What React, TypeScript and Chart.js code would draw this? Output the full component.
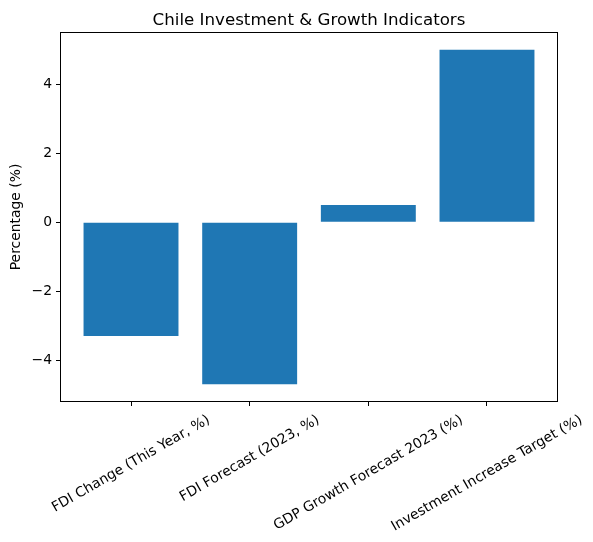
import { useEffect, useRef } from 'react';
import { Chart, registerables, Plugin } from 'chart.js';

Chart.register(...registerables);

const categories = [
	'FDI Change (This Year, %)',
	'FDI Forecast (2023, %)',
	'GDP Growth Forecast 2023 (%)',
	'Investment Increase Target (%)',
];
const values = [-3.3, -4.7, 0.5, 5.0];
const yTicks = [-4, -2, 0, 2, 4];
const chartTitle = 'Chile Investment & Growth Indicators';
const yTitle = 'Percentage (%)';

const FONT = "'DejaVu Sans', sans-serif";
const BLUE = '#1f77b4';

// matplotlib-like text and frame: title, box, rotated x labels centred on ticks
const textPlugin: Plugin<'bar'> = {
	id: 'mplText',
	afterDraw(chart) {
		const { ctx, chartArea, scales } = chart;
		const x = scales.x;
		ctx.save();
		ctx.strokeStyle = '#000';
		ctx.lineWidth = 1;
		ctx.strokeRect(
			Math.round(chartArea.left) - 0.5,
			Math.round(chartArea.top) - 0.5,
			Math.round(chartArea.right - chartArea.left) + 1,
			Math.round(chartArea.bottom - chartArea.top) + 1,
		);

		ctx.fillStyle = '#000';
		ctx.font = `16.67px ${FONT}`;
		ctx.textAlign = 'center';
		ctx.textBaseline = 'alphabetic';
		ctx.fillText(chartTitle, (chartArea.left + chartArea.right) / 2, chartArea.top - 8.5);

		ctx.font = `13.9px ${FONT}`;
		const angle = Math.PI / 6;
		const lineH = 16.2;
		categories.forEach((label, i) => {
			const w = ctx.measureText(label).width;
			const boxH = w * Math.sin(angle) + lineH * Math.cos(angle);
			const cx = x.getPixelForValue(i);
			const cy = chartArea.bottom + 11 + boxH / 2;
			ctx.save();
			ctx.translate(cx, cy);
			ctx.rotate(-angle);
			ctx.textAlign = 'center';
			ctx.textBaseline = 'middle';
			ctx.fillText(label, 0, 0);
			ctx.restore();
		});
		ctx.restore();
	},
};

export default function App() {
	const chartRef = useRef<HTMLCanvasElement>(null);

	useEffect(() => {
		document.body.style.margin = '0';
		if (!chartRef.current) return;
		const chart = new Chart(chartRef.current, {
			type: 'bar',
			data: {
				datasets: [
					{
						data: values.map((v, i) => ({ x: i, y: v })),
						backgroundColor: BLUE,
						borderWidth: 0,
						barPercentage: 1,
						categoryPercentage: 0.8,
					},
				],
			},
			options: {
				animation: false,
				responsive: false,
				layout: { padding: { top: 33, right: 36, bottom: 0, left: 0 } },
				plugins: {
					legend: { display: false },
					tooltip: { enabled: false },
					title: { display: false },
				},
				scales: {
					x: {
						type: 'linear',
						offset: false,
						min: -0.59,
						max: 3.59,
						afterBuildTicks: (scale) => {
							scale.ticks = categories.map((_, i) => ({ value: i }));
						},
						afterFit: (scale) => {
							scale.height = 141;
						},
						ticks: { callback: () => '', padding: 0 },
						grid: {
							offset: false,
							drawOnChartArea: false,
							drawTicks: true,
							tickLength: 5,
							tickColor: '#000',
							tickWidth: 1,
						},
						border: { display: false },
					},
					y: {
						type: 'linear',
						min: -5.185,
						max: 5.485,
						afterBuildTicks: (scale) => {
							scale.ticks = yTicks.map((v) => ({ value: v }));
						},
						afterFit: (scale) => {
							scale.width = 61;
						},
						ticks: {
							color: '#000',
							padding: 4,
							font: { family: FONT, size: 13.9 },
							callback: (v) => String(v).replace('-', '\u2212'),
						},
						title: {
							display: true,
							text: yTitle,
							color: '#000',
							font: { family: FONT, size: 13.9 },
							padding: { top: 8, bottom: 0 },
						},
						grid: {
							drawOnChartArea: false,
							drawTicks: true,
							tickLength: 5,
							tickColor: '#000',
							tickWidth: 1,
						},
						border: { display: false },
					},
				},
			},
			plugins: [textPlugin],
		});
		return () => chart.destroy();
	}, []);

	return (
		<div style={{ width: 593, height: 542, background: '#fff' }}>
			<canvas ref={chartRef} width={593} height={542}></canvas>
		</div>
	);
}
